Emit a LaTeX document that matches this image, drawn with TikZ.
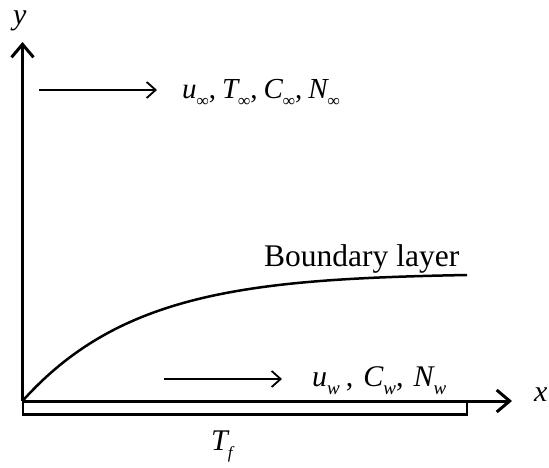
\documentclass[tikz,border=0pt]{standalone}
\usepackage{fontspec}
\setmainfont{Liberation Serif}
\usetikzlibrary{arrows.meta}
\newcommand{\lbsub}[2][17]{\raisebox{-8pt}{\fontsize{#1}{#1}\selectfont\itshape #2}}
\newcommand{\lbcomma}[1][9pt]{\upshape,\itshape\hspace{#1}}
\begin{document}
\begin{tikzpicture}[x=1pt,y=-1pt,
  axisline/.style={line width=3pt,-{Straight Barb[length=13pt,width=22pt,line width=3pt]}},
  flowarrow/.style={line width=1.8pt,-{Straight Barb[length=9pt,width=16pt,line width=1.8pt]}},
  lbl/.style={inner sep=0pt,anchor=base west},
  ]
\useasboundingbox (0,0) rectangle (549,468);
\coordinate (O) at (22.5,401);
\coordinate (ytip) at (22.5,42);
\coordinate (xtip) at (512,401);
\coordinate (blend) at (467,275);
% plate
\draw[line width=2.5pt] (23,401) rectangle (467,414.5);
% axes
\draw[axisline] (O) -- (ytip);
\draw[axisline] (O) -- (xtip);
\node[lbl] (ylab) at (13,25) {\fontsize{30}{30}\selectfont\itshape y};
\node[lbl] (xlab) at (534,401) {\fontsize{30}{30}\selectfont\itshape x};
% boundary layer curve
\draw[line width=2.5pt] (O) .. controls (120,292) and (250,279) .. (blend);
\node[lbl] (bl) at (264,266) {\fontsize{31.5}{31.5}\selectfont Boundary layer};
% free stream
\coordinate (ta1) at (39,90);
\coordinate (ta2) at (157,90);
\draw[flowarrow] (ta1) -- (ta2);
\node[lbl] (fs) at (182,99) {\fontsize{29}{29}\selectfont\itshape u\lbsub{∞}\lbcomma[6pt]T\lbsub{∞}\lbcomma[6pt]C\lbsub{∞}\lbcomma[6pt]N\lbsub{∞}};
% wall
\coordinate (ba1) at (164,379);
\coordinate (ba2) at (282,379);
\draw[flowarrow] (ba1) -- (ba2);
\node[lbl] (wall) at (312,386) {\fontsize{30}{30}\selectfont\itshape u\lbsub[19]{w}\hspace{6pt}\lbcomma[10pt]C\lbsub[19]{w}\lbcomma[10pt]N\lbsub[19]{w}};
% plate temperature
\node[lbl] (tf) at (211,450) {\fontsize{30}{30}\selectfont\itshape T\lbsub{f}};
\end{tikzpicture}
\end{document}
